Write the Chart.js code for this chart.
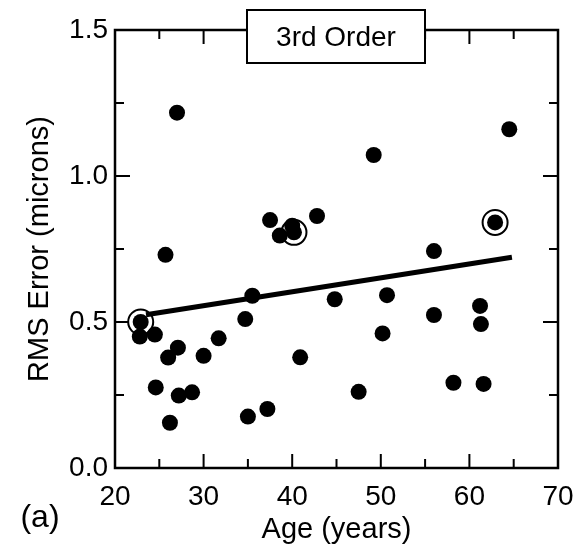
<!DOCTYPE html>
<html lang="en">
<head>
<meta charset="UTF-8">
<title>3rd Order RMS error vs age</title>
<script src="https://cdn.jsdelivr.net/npm/chart.js"></script>
<style>
  html, body { margin: 0; padding: 0; background: #fff; }
  #wrap { width: 586px; height: 551px; }
</style>
</head>
<body>
<div id="wrap"><canvas id="grafico"></canvas></div>
<script>
    // values
    const ages = [22.8, 24.5, 24.6, 25.7, 26.0, 26.2, 27.0, 27.1, 27.2, 28.7, 30.0, 31.7,
                  34.7, 35.0, 35.5, 37.2, 37.5, 38.6, 40.0, 40.9, 42.8, 44.8, 47.5, 49.2,
                  50.2, 50.7, 56.0, 56.0, 58.2, 61.2, 61.3, 61.6, 64.5];
    const rms = [0.45, 0.457, 0.276, 0.73, 0.378, 0.155, 1.217, 0.412, 0.248, 0.259, 0.384, 0.444,
                 0.51, 0.176, 0.59, 0.202, 0.849, 0.796, 0.83, 0.379, 0.863, 0.578, 0.261, 1.072,
                 0.461, 0.592, 0.743, 0.524, 0.292, 0.555, 0.493, 0.288, 1.16];
    // circled subjects
    const ringAges = [22.9, 40.2, 62.9];
    const ringRms = [0.50, 0.807, 0.841];
    // fitted line ends
    const fitAges = [23.5, 64.8];
    const fitRms = [0.525, 0.722];

    const xTicks = [20, 30, 40, 50, 60, 70];
    const yTicks = [0.0, 0.5, 1.0, 1.5];

    const fonte = "'Liberation Sans', Arial, Helvetica, sans-serif";

    function pares(xs, ys) {
        let out = [];
        for (let i = 0; i < xs.length; i++) out.push({ x: xs[i], y: ys[i] });
        return out;
    }

    // frame with inward ticks on all four sides, title box and panel label
    const moldura = {
        id: 'moldura',
        beforeDatasetsDraw(chart) {
            const ctx = chart.ctx;
            const a = chart.chartArea;
            const sx = chart.scales.x, sy = chart.scales.y;
            ctx.save();
            ctx.strokeStyle = '#000';
            ctx.lineWidth = 2;
            for (let v = 20; v <= 70; v += 5) {
                const px = sx.getPixelForValue(v);
                const len = (v % 10 === 0) ? 14 : 9;
                ctx.beginPath();
                ctx.moveTo(px, a.bottom); ctx.lineTo(px, a.bottom - len);
                ctx.moveTo(px, a.top); ctx.lineTo(px, a.top + len);
                ctx.stroke();
            }
            for (let k = 0; k <= 6; k++) {
                const v = k * 0.25;
                const py = sy.getPixelForValue(v);
                const len = (k % 2 === 0) ? 15 : 9;
                ctx.beginPath();
                ctx.moveTo(a.left, py); ctx.lineTo(a.left + len, py);
                ctx.moveTo(a.right, py); ctx.lineTo(a.right - len, py);
                ctx.stroke();
            }
            ctx.lineWidth = 2.5;
            ctx.strokeRect(a.left, a.top, a.right - a.left, a.bottom - a.top);
            ctx.restore();
        },
        afterDraw(chart) {
            const ctx = chart.ctx;
            ctx.save();
            // title box
            ctx.fillStyle = '#fff';
            ctx.fillRect(247, 10, 178, 53);
            ctx.strokeStyle = '#000';
            ctx.lineWidth = 2;
            ctx.strokeRect(247, 10, 178, 53);
            ctx.fillStyle = '#000';
            ctx.textAlign = 'center';
            ctx.textBaseline = 'middle';
            ctx.font = '28px ' + fonte;
            ctx.fillText('3rd Order', 336, 38);
            // panel label
            ctx.font = '32px ' + fonte;
            ctx.fillText('(a)', 40, 518);
            ctx.restore();
        }
    };

    // dataset 0 is drawn on top, the rings sit underneath everything
    const dados = {
        datasets: [
            {
                label: 'medidas',
                data: pares(ages, rms),
                pointRadius: 8,
                pointBackgroundColor: '#000',
                pointBorderWidth: 0,
                showLine: false
            },
            {
                label: 'circulados',
                data: pares(ringAges, ringRms),
                pointRadius: 8,
                pointBackgroundColor: '#000',
                pointBorderWidth: 0,
                showLine: false
            },
            {
                label: 'ajuste',
                data: pares(fitAges, fitRms),
                showLine: true,
                borderColor: '#000',
                borderWidth: 5,
                pointRadius: 0,
                fill: false
            },
            {
                label: 'aneis',
                data: pares(ringAges, ringRms),
                pointRadius: 12.5,
                pointBackgroundColor: '#fff',
                pointBorderColor: '#000',
                pointBorderWidth: 2,
                showLine: false
            }
        ]
    };

    const config = {
        type: 'scatter',
        data: dados,
        plugins: [moldura],
        options: {
            responsive: true,
            maintainAspectRatio: false,
            animation: false,
            clip: false,
            layout: { padding: { top: 30, right: 28, left: 0, bottom: 0 } },
            plugins: {
                legend: { display: false },
                tooltip: { enabled: false }
            },
            scales: {
                x: {
                    type: 'linear',
                    min: 20,
                    max: 70,
                    afterFit(scale) { scale.height = 83; },
                    afterBuildTicks(scale) { scale.ticks = xTicks.map(v => ({ value: v })); },
                    grid: { display: false, drawTicks: false },
                    border: { display: false },
                    ticks: {
                        color: '#000',
                        padding: 12,
                        maxRotation: 0,
                        font: { family: fonte, size: 28 }
                    },
                    title: {
                        display: true,
                        text: 'Age (years)',
                        color: '#000',
                        padding: { top: 0, bottom: 4 },
                        font: { family: fonte, size: 29 }
                    }
                },
                y: {
                    type: 'linear',
                    min: 0,
                    max: 1.5,
                    afterFit(scale) { scale.width = 115; },
                    afterBuildTicks(scale) { scale.ticks = yTicks.map(v => ({ value: v })); },
                    grid: { display: false, drawTicks: false },
                    border: { display: false },
                    ticks: {
                        color: '#000',
                        padding: 7,
                        font: { family: fonte, size: 28 },
                        callback: function (v) { return Number(v).toFixed(1); }
                    },
                    title: {
                        display: true,
                        text: 'RMS Error (microns)',
                        color: '#000',
                        padding: { top: 23, bottom: 0 },
                        font: { family: fonte, size: 29 }
                    }
                }
            }
        }
    };

    let myChart = new Chart(document.getElementById('grafico'), config);
</script>
</body>
</html>
